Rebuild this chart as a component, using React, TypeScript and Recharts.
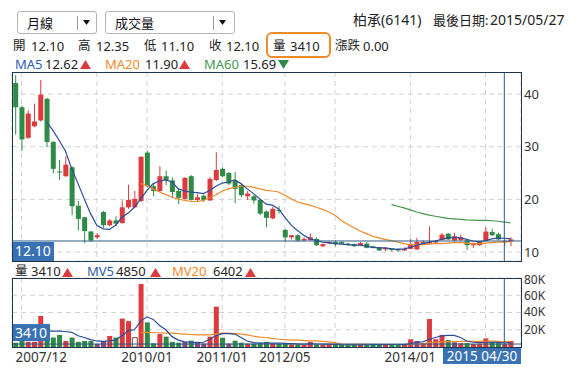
import React from 'react';
import {
  ComposedChart,
  Bar,
  Line,
  XAxis,
  YAxis,
  CartesianGrid,
  ReferenceLine,
  Cell,
} from 'recharts';

// monthly candles, oldest first
const opens = [
  42.1, 37.5, 31.7, 33.9, 35.0, 39.1, 30.9, 25.3, 24.4, 26.1,
  18.8, 16.6, 13.9, 12.8, 17.6, 15.1, 16.0, 15.5, 18.5, 18.5,
  19.7, 28.9, 22.5, 21.6, 24.4, 23.6, 21.6, 20.1, 24.4, 19.9,
  20.7, 19.8, 23.7, 25.8, 25.0, 23.6, 22.7, 20.6, 20.6, 19.9,
  17.7, 16.4, 18.0, 14.2, 12.8, 13.2, 12.2, 12.3, 12.5, 11.1,
  11.6, 11.9, 11.9, 11.6, 11.5, 11.3, 11.6, 11.1, 10.9, 10.5,
  10.7, 10.6, 10.3, 10.6, 10.5, 11.6, 11.6, 11.8, 12.3, 13.5,
  12.2, 12.3, 12.2, 11.3, 11.3, 12.1, 13.8, 13.4, 12.1, 12.1,
];
const highs = [
  43.6, 37.8, 36.9, 38.2, 42.7, 39.3, 31.1, 27.5, 28.2, 26.3,
  19.7, 16.7, 14.0, 13.6, 17.8, 16.3, 16.8, 19.8, 22.8, 21.6,
  28.2, 29.2, 23.0, 26.3, 25.5, 24.2, 22.0, 24.2, 24.6, 21.1,
  20.9, 24.2, 29.0, 26.1, 25.2, 25.2, 23.0, 21.6, 20.8, 20.1,
  17.9, 18.6, 18.7, 14.4, 13.2, 13.4, 12.8, 13.5, 12.8, 11.6,
  12.0, 12.2, 12.0, 11.8, 11.6, 11.9, 11.9, 11.2, 11.0, 10.9,
  10.8, 10.7, 10.9, 12.5, 12.7, 12.2, 14.9, 12.3, 13.6, 13.6,
  13.6, 13.3, 12.4, 11.8, 12.1, 14.7, 14.4, 13.7, 12.35, 12.8,
];
const lows = [
  32.3, 29.2, 31.5, 33.7, 34.8, 29.9, 25.0, 23.7, 24.3, 17.0,
  14.1, 11.7, 11.9, 12.5, 14.6, 14.9, 15.0, 15.4, 18.2, 18.4,
  19.5, 22.3, 20.6, 21.5, 22.7, 20.4, 19.1, 20.0, 19.8, 19.7,
  19.5, 19.7, 23.5, 24.2, 22.7, 19.3, 20.4, 19.9, 19.2, 17.0,
  14.7, 16.2, 17.3, 11.9, 12.4, 11.9, 12.1, 12.1, 11.1, 10.9,
  11.5, 11.1, 11.5, 11.2, 11.0, 11.2, 10.7, 10.7, 10.2, 10.2,
  10.1, 10.0, 10.2, 10.5, 10.4, 11.4, 11.5, 11.7, 12.2, 12.3,
  12.0, 12.1, 10.4, 10.8, 11.2, 12.0, 13.0, 12.2, 11.1, 11.1,
];
const closes = [
  37.5, 31.4, 36.3, 34.8, 39.9, 30.9, 25.8, 25.1, 26.6, 18.7,
  16.3, 14.0, 12.2, 13.2, 15.1, 16.0, 15.4, 18.5, 19.9, 20.1,
  28.1, 22.5, 21.6, 24.4, 23.7, 21.4, 20.3, 24.1, 19.9, 20.4,
  19.9, 23.9, 25.6, 24.4, 23.0, 22.0, 20.8, 21.1, 19.8, 17.3,
  16.5, 18.2, 17.8, 12.8, 13.2, 12.2, 12.5, 12.8, 11.3, 11.5,
  11.9, 11.5, 11.6, 11.3, 11.1, 11.7, 10.8, 10.8, 10.3, 10.8,
  10.4, 10.3, 10.6, 11.4, 11.9, 11.9, 11.9, 12.1, 13.3, 12.4,
  13.0, 12.8, 11.3, 11.6, 12.0, 13.9, 13.2, 12.4, 12.1, 12.4,
];
const volumes = [
  5000, 8000, 6000, 6000, 36000, 9000, 11000, 14000, 7000, 11000,
  6000, 7000, 7000, 3500, 7000, 12800, 11000, 33000, 30000, 10800,
  73000, 28600, 4300, 15000, 12000, 6000, 5000, 6000, 7300, 6000,
  4000, 12000, 46800, 10800, 4000, 7300, 5000, 4000, 4000, 5000,
  6000, 4000, 3500, 3500, 3000, 3000, 2500, 6000, 3000, 2500,
  3000, 2500, 2500, 2500, 2500, 2500, 3000, 2500, 3000, 2500,
  3000, 3000, 2500, 9000, 7000, 4500, 32500, 9000, 14000, 8000,
  5500, 4500, 4500, 3500, 4000, 10000, 6000, 4500, 3410, 7000,
];
// bars the source paints purple / hollow instead of red or green
const purpleVol = [13, 14, 27, 29, 30, 34, 64, 70];
const hollowVol = [19];

const ma5 = [
  null, null, null, null, null, 34.7, 33.1, 31.2, 29.2, 25.8,
  23.0, 20.1, 17.3, 15.1, 14.4, 14.3, 15.1, 16.6, 17.4, 18.5,
  20.1, 21.7, 23.0, 23.5, 23.7, 23.3, 22.0, 21.6, 21.4, 21.3,
  21.1, 21.7, 22.5, 23.1, 23.3, 23.7, 23.0, 22.0, 21.1, 20.1,
  19.1, 18.9, 18.2, 16.6, 15.1, 14.1, 13.2, 12.5, 12.2, 11.9,
  11.8, 11.6, 11.5, 11.4, 11.3, 11.3, 11.1, 10.9, 10.8, 10.8,
  10.6, 10.5, 10.6, 10.9, 11.3, 11.6, 11.9, 12.1, 12.4, 12.7,
  12.8, 12.7, 12.4, 12.1, 11.9, 12.2, 12.5, 12.7, 12.62, 12.5,
];
const ma20 = [
  null, null, null, null, null, null, null, null, null, null,
  null, null, null, null, null, null, null, null, null, null,
  23.0, 22.7, 22.0, 21.4, 20.9, 20.4, 20.1, 19.8, 19.6, 19.6,
  19.8, 20.3, 20.9, 21.6, 22.0, 22.3, 22.5, 22.5, 22.3, 22.0,
  21.7, 21.6, 21.4, 20.8, 20.1, 19.5, 19.2, 18.9, 18.5, 18.1,
  17.6, 17.0, 16.0, 15.3, 14.6, 14.0, 13.5, 13.0, 12.7, 12.4,
  12.2, 11.9, 11.6, 11.4, 11.4, 11.4, 11.5, 11.6, 11.6, 11.7,
  11.8, 11.8, 11.7, 11.6, 11.6, 11.7, 11.8, 11.9, 11.9, 12.0,
];
const ma60 = [
  null, null, null, null, null, null, null, null, null, null,
  null, null, null, null, null, null, null, null, null, null,
  null, null, null, null, null, null, null, null, null, null,
  null, null, null, null, null, null, null, null, null, null,
  null, null, null, null, null, null, null, null, null, null,
  null, null, null, null, null, null, null, null, null, null,
  19.0, 18.7, 18.4, 18.0, 17.6, 17.3, 17.0, 16.8, 16.6, 16.4,
  16.3, 16.2, 16.1, 16.05, 16.0, 16.0, 15.95, 15.85, 15.69, 15.55,
];
const mv5 = [
  null, null, null, null, 18500, 18500, 18500, 18500, 18000, 17000,
  13000, 11000, 8500, 7000, 6500, 7000, 8000, 13000, 19000, 20000,
  30000, 35000, 32000, 25000, 20000, 12000, 8000, 6000, 5500, 5000,
  5500, 9000, 13000, 15500, 15500, 15000, 11000, 7000, 5000, 4500,
  4500, 4500, 4500, 4200, 4000, 3600, 3400, 3600, 3500, 3400,
  3300, 3000, 2700, 2600, 2500, 2500, 2600, 2700, 2800, 2800,
  2900, 2900, 2800, 4000, 5500, 6000, 9000, 11000, 13000, 13500,
  13500, 11000, 7000, 5500, 5000, 5500, 5500, 5300, 4850, 5200,
];
const mv20 = [
  null, null, null, null, null, null, null, null, null, null,
  null, null, null, null, null, null, null, null, null, null,
  17000, 17000, 16500, 16500, 16000, 16000, 15500, 15000, 14500, 14000,
  14000, 14000, 15000, 16000, 16000, 15500, 15000, 14000, 12500, 11500,
  11000, 10000, 9000, 8500, 8000, 8000, 7500, 7000, 7000, 6500,
  6000, 5000, 3500, 3200, 3000, 3000, 3000, 3000, 2900, 2900,
  2900, 2900, 2900, 3200, 3500, 3700, 5000, 5400, 6000, 6300,
  6400, 6500, 6500, 6500, 6500, 6800, 6700, 6500, 6402, 6500,
];

const gridIdx = [1, 13, 21, 33, 43, 51, 63, 75];
const dateIdx = [1, 21, 33, 43, 63, 78];
const dateLabels = ['2007/12', '2010/01', '2011/01', '2012/05', '2014/01', '2015 04/30'];
const priceTicks = [10, 20, 30, 40];
const volTicks = [20000, 40000, 60000, 80000];

const crossIdx = 78;
const crossPrice = 12.1;
const crossVol = 3410;

const X_DOMAIN: [number, number] = [-0.53, 80.66];
const PLOT_LEFT = 12;
const PLOT_RIGHT = 521;

const FONT = '"Noto Sans", "Noto Sans CJK TC", sans-serif';
const RED = '#dc3a3c';
const GREEN = '#2f8a45';
const PURPLE = '#94477e';
const BLUE = '#2b4c9b';
const ORANGE = '#f08a2a';
const MA60C = '#45994d';
const CROSS = '#2d5a86';
const BOX = '#3872b4';
const FRAME = '#1d3550';
const GRID = '#d2d2d2';

const rows = opens.map((o, i) => ({
  i,
  o,
  h: highs[i],
  l: lows[i],
  c: closes[i],
  range: [lows[i], highs[i]],
  v: volumes[i],
  ma5: ma5[i],
  ma20: ma20[i],
  ma60: ma60[i],
  mv5: mv5[i],
  mv20: mv20[i],
}));

const Candle = (props: any) => {
  const { x, y, width, height, payload } = props;
  const { o, h, l, c } = payload;
  const color = c >= o ? RED : GREEN;
  const span = h - l || 1;
  const yOf = (v: number) => y + ((h - v) / span) * height;
  const cx = x + width / 2;
  const top = yOf(Math.max(o, c));
  const bot = yOf(Math.min(o, c));
  return (
    <g>
      <line x1={cx} x2={cx} y1={y} y2={y + height} stroke={color} strokeWidth={1} />
      <rect x={x} y={top} width={width} height={Math.max(bot - top, 1)} fill={color} />
    </g>
  );
};

const PriceBox = (props: any) => {
  const vb = props.viewBox || {};
  return (
    <g>
      <rect x={vb.x} y={vb.y + 1} width={42} height={19} fill={BOX} />
      <text x={vb.x + 3} y={vb.y + 15} fill="#fff" fontSize={14} fontFamily={FONT}>
        {crossPrice.toFixed(2)}
      </text>
    </g>
  );
};

const VolBox = (props: any) => {
  const vb = props.viewBox || {};
  return (
    <g>
      <rect x={vb.x} y={vb.y - 20} width={38} height={17} fill={BOX} />
      <text x={vb.x + 3} y={vb.y - 6} fill="#fff" fontSize={14} fontFamily={FONT}>
        {crossVol}
      </text>
    </g>
  );
};

const DateTick = (props: any) => {
  const { x, y, payload } = props;
  const k = dateIdx.indexOf(payload.value);
  const label = dateLabels[k];
  if (payload.value === crossIdx) {
    const w = 78;
    const left = Math.min(x - w / 2, PLOT_RIGHT - w);
    return (
      <g>
        <rect x={left} y={y} width={w} height={17} fill={BOX} />
        <text x={left + w / 2} y={y + 13.5} textAnchor="middle" fill="#fff" fontSize={13.5} fontFamily={FONT}>
          {label}
        </text>
      </g>
    );
  }
  const first = k === 0;
  return (
    <text
      x={first ? x - 6 : x}
      y={y + 14.5}
      textAnchor={first ? 'start' : 'middle'}
      fill="#333"
      fontSize={13.5}
      fontFamily={FONT}
    >
      {label}
    </text>
  );
};

const VolTick = (props: any) => {
  const { x, y, payload } = props;
  const v = payload.value;
  const shift = v === 80000 ? 1.5 : v === 60000 ? 0.5 : v === 40000 ? -0.5 : 0;
  return (
    <text x={x} y={y + shift} dy="0.355em" fill="#333" fontSize={12} fontFamily={FONT}>
      {v / 1000}K
    </text>
  );
};

const Tri = ({ x, y, up }: { x: number; y: number; up: boolean }) => (
  <svg style={{ position: 'absolute', left: x, top: y - 4 }} width={11} height={9}>
    <polygon points={up ? '5.5,0 11,9 0,9' : '0,0 11,0 5.5,9'} fill={up ? RED : GREEN} />
  </svg>
);

const Txt = ({ x, y, size = 13, color = '#222', children }: any) => (
  <span
    style={{
      position: 'absolute',
      left: x,
      top: y - 7,
      fontSize: size,
      lineHeight: '14px',
      color,
      whiteSpace: 'nowrap',
    }}
  >
    {children}
  </span>
);

const Select = ({ x, w, sep, label }: any) => (
  <div
    style={{
      position: 'absolute',
      left: x,
      top: 11,
      width: w,
      height: 23,
      boxSizing: 'border-box',
      border: '1px solid #b3b3b3',
      borderRadius: 3,
      background: '#fff',
    }}
  >
    <span style={{ position: 'absolute', left: 9, top: 1, fontSize: 13, lineHeight: '20px', color: '#111' }}>{label}</span>
    <div style={{ position: 'absolute', left: sep, top: 4, width: 1, height: 14, background: '#999' }} />
    <svg style={{ position: 'absolute', left: sep + 6, top: 8 }} width={7} height={5}>
      <polygon points="0,0 7,0 3.5,5" fill="#111" />
    </svg>
  </div>
);

const lineProps = { dot: false, activeDot: false, isAnimationActive: false, strokeWidth: 1.2 } as const;

const volFill = (r: any) =>
  hollowVol.includes(r.i) ? '#fff' : purpleVol.includes(r.i) ? PURPLE : r.c >= r.o ? RED : GREEN;

export default function App() {
  return (
    <div
      style={{
        position: 'absolute',
        left: 0,
        top: 0,
        width: 580,
        height: 381,
        background: '#fff',
        fontFamily: FONT,
        overflow: 'hidden',
      }}
    >
      <Select x={17} w={80} sep={59} label="月線" />
      <Select x={105} w={130} sep={107} label="成交量" />

      <Txt x={353} y={20} size={14}>柏承(6141)</Txt>
      <Txt x={433} y={20} size={13}>最後日期:</Txt>
      <Txt x={490} y={20} size={14}>2015/05/27</Txt>

      <Txt x={13} y={46} size={12.5}>開</Txt>
      <Txt x={31} y={46}>12.10</Txt>
      <Txt x={78} y={46} size={12.5}>高</Txt>
      <Txt x={96} y={46}>12.35</Txt>
      <Txt x={144} y={46} size={12.5}>低</Txt>
      <Txt x={161} y={46}>11.10</Txt>
      <Txt x={209} y={46} size={12.5}>收</Txt>
      <Txt x={226} y={46}>12.10</Txt>
      <Txt x={273} y={46} size={12.5}>量</Txt>
      <Txt x={290} y={46}>3410</Txt>
      <Txt x={335} y={46} size={12.5}>漲跌</Txt>
      <Txt x={363} y={46}>0.00</Txt>
      <div
        style={{
          position: 'absolute',
          left: 266,
          top: 32,
          width: 65,
          height: 26,
          boxSizing: 'border-box',
          border: `2px solid ${ORANGE}`,
          borderRadius: 6,
        }}
      />

      <Txt x={15} y={64} color="#2c5bb0">MA5</Txt>
      <Txt x={45} y={64}>12.62</Txt>
      <Tri x={80} y={64} up />
      <Txt x={105} y={64} color={ORANGE}>MA20</Txt>
      <Txt x={145} y={64}>11.90</Txt>
      <Tri x={179} y={64} up />
      <Txt x={204} y={64} color={MA60C}>MA60</Txt>
      <Txt x={243} y={64}>15.69</Txt>
      <Tri x={278} y={64} up={false} />

      <div style={{ position: 'absolute', left: 0, top: 72 }}>
        <ComposedChart width={580} height={189} data={rows} margin={{ top: 0, right: 0, bottom: 0, left: PLOT_LEFT }}>
          <XAxis dataKey="i" type="number" domain={X_DOMAIN} hide allowDataOverflow />
          <XAxis xAxisId="grid" dataKey="i" type="number" domain={X_DOMAIN} ticks={gridIdx} hide allowDataOverflow />
          <YAxis
            orientation="right"
            width={59}
            domain={[8.3, 44.2]}
            ticks={priceTicks}
            interval={0}
            axisLine={false}
            tickLine={false}
            tickSize={0}
            tickMargin={3}
            tick={{ fontSize: 13, fill: '#333', fontFamily: FONT }}
            allowDataOverflow
          />
          <CartesianGrid xAxisId="grid" stroke={GRID} strokeDasharray="5 4" />
          <Bar dataKey="range" barSize={5} shape={(p: any) => <Candle {...p} />} isAnimationActive={false} />
          <Line dataKey="ma60" stroke={MA60C} {...lineProps} />
          <Line dataKey="ma20" stroke={ORANGE} {...lineProps} />
          <Line dataKey="ma5" stroke={BLUE} {...lineProps} />
          <ReferenceLine y={crossPrice} stroke={CROSS} label={<PriceBox />} />
          <ReferenceLine x={crossIdx} stroke={CROSS} />
        </ComposedChart>
      </div>
      <div
        style={{
          position: 'absolute',
          left: PLOT_LEFT,
          top: 72,
          width: PLOT_RIGHT - PLOT_LEFT + 1,
          height: 190,
          boxSizing: 'border-box',
          border: `1px solid ${FRAME}`,
          pointerEvents: 'none',
        }}
      />

      <Txt x={15} y={271} size={12.5}>量</Txt>
      <Txt x={31} y={271}>3410</Txt>
      <Tri x={62} y={272} up />
      <Txt x={87} y={271} color="#2c5bb0">MV5</Txt>
      <Txt x={116} y={271}>4850</Txt>
      <Tri x={150} y={272} up />
      <Txt x={172} y={271} color={ORANGE}>MV20</Txt>
      <Txt x={213} y={271}>6402</Txt>
      <Tri x={245} y={272} up />

      <div style={{ position: 'absolute', left: 0, top: 270 }}>
        <ComposedChart width={580} height={95} data={rows} margin={{ top: 8, right: 0, bottom: 0, left: PLOT_LEFT }}>
          <XAxis
            dataKey="i"
            type="number"
            domain={X_DOMAIN}
            ticks={dateIdx}
            interval={0}
            height={18}
            axisLine={false}
            tickLine={false}
            tickSize={0}
            tickMargin={0}
            tick={<DateTick />}
            allowDataOverflow
          />
          <XAxis xAxisId="grid" dataKey="i" type="number" domain={X_DOMAIN} ticks={gridIdx} hide allowDataOverflow />
          <YAxis
            orientation="right"
            width={59}
            domain={[0, 80000]}
            ticks={volTicks}
            interval={0}
            axisLine={false}
            tickLine={false}
            tickSize={0}
            tickMargin={3}
            tick={<VolTick />}
            allowDataOverflow
          />
          <CartesianGrid xAxisId="grid" stroke={GRID} strokeDasharray="5 4" />
          <Bar dataKey="v" barSize={5} isAnimationActive={false}>
            {rows.map((r) => (
              <Cell
                key={r.i}
                fill={volFill(r)}
                stroke={hollowVol.includes(r.i) ? '#555' : 'none'}
              />
            ))}
          </Bar>
          <Line dataKey="mv20" stroke={ORANGE} {...lineProps} />
          <Line dataKey="mv5" stroke={BLUE} {...lineProps} />
          <ReferenceLine y={crossVol} stroke={CROSS} label={<VolBox />} />
          <ReferenceLine x={crossIdx} stroke={CROSS} />
        </ComposedChart>
      </div>
      <div
        style={{
          position: 'absolute',
          left: PLOT_LEFT,
          top: 278,
          width: PLOT_RIGHT - PLOT_LEFT + 1,
          height: 70,
          boxSizing: 'border-box',
          border: `1px solid ${FRAME}`,
          pointerEvents: 'none',
        }}
      />
    </div>
  );
}
